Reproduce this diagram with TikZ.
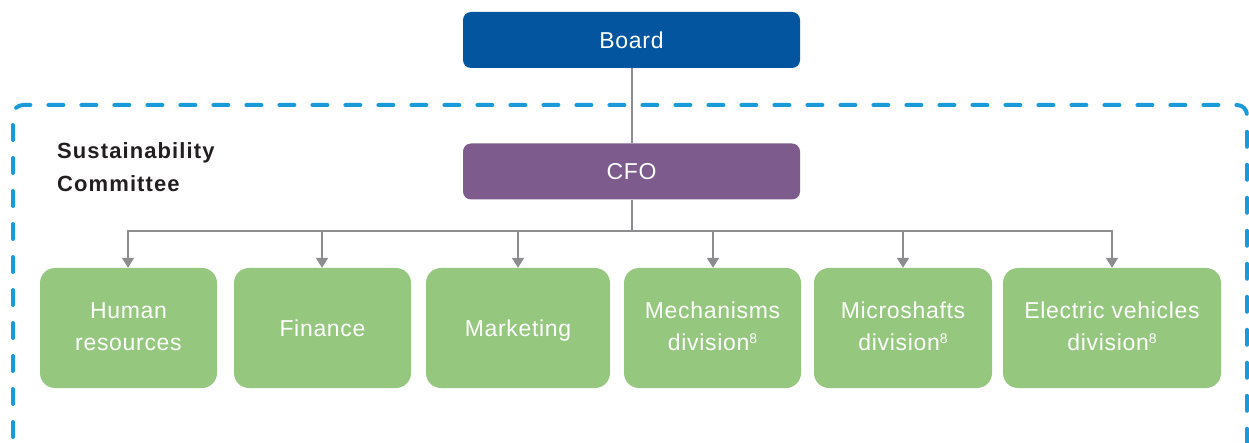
\documentclass[tikz,border=0pt]{standalone}
\usepackage{fontspec}
\setmainfont{Liberation Sans}
\usetikzlibrary{arrows.meta}
\definecolor{boardblue}{HTML}{02559E}
\definecolor{cfopurple}{HTML}{7D5B8D}
\definecolor{unitgreen}{HTML}{95C77F}
\definecolor{dashblue}{HTML}{1B9ADA}
\definecolor{linegray}{HTML}{8D8D90}
\definecolor{darktext}{HTML}{231F20}
\newfontfamily\unitfont[LetterSpace=3]{Liberation Sans}
\newfontfamily\commfont[LetterSpace=5]{Liberation Sans}
\newcommand{\fnmark}[1]{\raisebox{7pt}{\fontsize{14}{14}\selectfont #1}}
\tikzset{
  topbox/.style={rectangle, rounded corners=8pt, minimum width=337pt, minimum height=56pt,
    text=white, font=\unitfont\fontsize{23}{32}\selectfont, inner sep=0pt,
    text height=16.5pt, text depth=0pt},
  unitbox/.style={rectangle, rounded corners=15pt, fill=unitgreen, minimum height=120pt,
    text=white, align=center, font=\unitfont\fontsize{23}{32}\selectfont, inner sep=0pt},
  oneline/.style={text height=16.5pt, text depth=0pt},
  twoline/.style={text height=48.5pt, text depth=4.5pt},
  conn/.style={draw=linegray, line width=2pt},
  arr/.style={conn, -{Triangle[width=12pt,length=10pt]}},
  committee/.style={draw=dashblue, line width=4pt, dash pattern=on 15pt off 18pt, line cap=round, rounded corners=10pt}
}
\begin{document}
\begin{tikzpicture}[x=1pt,y=-1pt]
\useasboundingbox (0,0) rectangle (1249,443);
% committee dashed frame
\draw[committee] (13,470) -- (13,105) -- (1247,105) -- (1247,470);
\node[anchor=north west, align=left, text=darktext, font=\commfont\fontsize{22}{33}\selectfont\bfseries, inner sep=0pt]
  (comm) at (57,142) {Sustainability\\Committee};
% top nodes
\node[topbox, fill=boardblue] (board) at (631.5,40) {Board};
\node[topbox, fill=cfopurple] (cfo) at (631.5,171.5) {CFO};
% units
\node[unitbox, twoline, minimum width=177pt] (hr) at (128.5,328) {Human\\resources};
\node[unitbox, oneline, minimum width=177pt] (fin) at (322.5,328) {Finance};
\node[unitbox, oneline, minimum width=184pt] (mkt) at (518,328) {Marketing};
\node[unitbox, twoline, minimum width=177pt] (mech) at (712.5,328) {Mechanisms\\division\fnmark{8}};
\node[unitbox, twoline, minimum width=178pt] (micro) at (903,328) {Microshafts\\division\fnmark{8}};
\node[unitbox, twoline, minimum width=218pt] (ev) at (1112,328) {Electric vehicles\\division\fnmark{8}};
% connectors
\coordinate (j) at (631.5,231);
\draw[conn] (board.south) -- (cfo.north);
\draw[conn] (cfo.south) -- (j);
\foreach \u/\x in {hr/128, fin/322, mkt/518, mech/713, micro/903, ev/1112}{
  \draw[arr] (j) -| (\u.north -| \x,0);
}
\end{tikzpicture}
\end{document}
